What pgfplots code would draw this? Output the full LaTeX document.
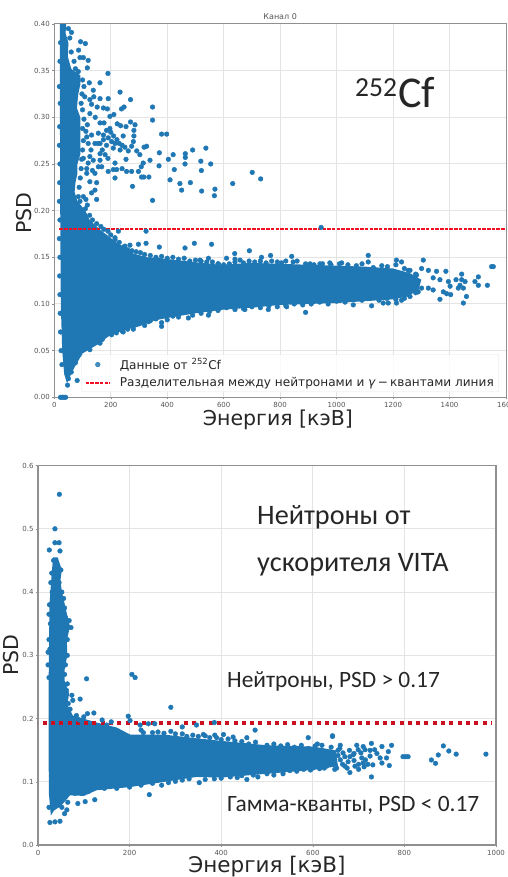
\documentclass[border=0pt]{standalone}
\usepackage{fontspec}
\setmainfont{DejaVu Sans}
\newfontfamily\calfont{Carlito}
\usepackage{pgfplots}
\pgfplotsset{compat=1.18}
\definecolor{mplblue}{HTML}{1F77B4}
\definecolor{gridc}{HTML}{E4E4E4}
\definecolor{tickc}{HTML}{555555}
\definecolor{framec}{HTML}{909090}
\definecolor{txt}{HTML}{262626}
\definecolor{dotred}{HTML}{CC1020}
\definecolor{lred}{HTML}{F01020}
\pgfplotsset{
  common/.style={
    scale only axis, axis on top=false, grid=major,
    grid style={gridc,line width=1pt},
    axis line style={framec,line width=1pt},
    tick style={framec,line width=0.4pt},
    major tick length=2pt,
    tick align=outside, xtick pos=lower, ytick pos=left,
    scaled ticks=false,
    tick label style={font=\fontsize{7}{8}\selectfont,color=tickc},
    xticklabel style={yshift=1pt},
    yticklabel style={xshift=1pt},
    legend image code/.code={\draw[mark repeat=2,mark phase=2,##1] plot coordinates {(0pt,0pt)(12pt,0pt)(24pt,0pt)};},
  },
  dots/.style={only marks,mark=*,mark size=2.35pt,color=mplblue,mark options={draw=none,fill=mplblue}},
  blob/.style={draw=none,fill=mplblue,forget plot},
}
\begin{document}
\begin{tikzpicture}
\path[use as bounding box] (0,0) rectangle (507pt,877pt);
% ------------------------------------ top panel
\begin{axis}[common,at={(54.3pt,479.7pt)},anchor=south west,
  width=451.7pt,height=373.3pt,
  xmin=0,xmax=1600,ymin=0,ymax=0.40,
  xtick={0,200,...,1600},ytick={0,0.05,...,0.401},
  yticklabel style={/pgf/number format/.cd,fixed,fixed zerofill,precision=2,assume math mode=true},
  xticklabel style={/pgf/number format/.cd,fixed,1000 sep={},assume math mode=true},
  title={Канал 0},title style={font=\fontsize{8}{9}\selectfont,color=tickc,at={(0.5,1)},yshift=-5.5pt},
  xlabel={Энергия [кэВ]},ylabel={PSD},
  every axis x label/.style={at={(axis description cs:0.495,-0.061)},anchor=center,font=\fontsize{20.5}{24}\selectfont,color=txt},
  every axis y label/.style={at={(axis description cs:-0.067,0.494)},anchor=center,rotate=90,font=\fontsize{20.5}{24}\selectfont,color=txt},
  legend style={at={(0.9845,0.014)},anchor=south east,font=\fontsize{12.1}{14}\selectfont,
    draw=gridc,fill=white,fill opacity=0.82,text opacity=1,text=txt,cells={anchor=west},
    row sep=2.5pt,inner xsep=3pt,inner ysep=2pt,rounded corners=1pt,
    /tikz/every odd column/.append style={column sep=7pt}},
  legend cell align=left,
]
\addplot[blob] coordinates {(20,.40)(42,.40)(40,.39)(50,.38)(48,.365)(60,.352)(92,.345)(92,.335)(85,.325)(80,.31)(92,.30)(92,.28)(92,.26)(82,.25)(82,.24)(75,.23)(72,.22)(82,.21)(110,.20)(125,.19)(160,.18)(186,.174)(215,.167)(250,.160)(280,.154)(330,.150)(374,.149)(492,.145)(587,.142)(700,.144)(800,.143)(1000,.141)(1100,.140)(1200,.138)(1260,.133)(1300,.126)(1290,.115)(1250,.108)(1200,.105)(1100,.103)(1000,.101)(800,.099)(700,.096)(600,.094)(500,.090)(400,.085)(350,.082)(300,.076)(250,.072)(200,.067)(150,.056)(100,.047)(75,.034)(55,.022)(45,.015)(35,.025)(28,.05)(23,.1)(21,.2)(20,.3)} --cycle;
\addplot[dots] coordinates {
(61,.391)(93,.381)(110,.379)(86,.372)(91,.364)(103,.364)(120,.361)(117,.353)(190,.347)(124,.337)(162,.337)(138,.329)(233,.327)(270,.319)(191,.320)(162,.320)(140,.322)(126,.319)(132,.314)(152,.311)(174,.310)(188,.309)(247,.311)(238,.309)(348,.311)(348,.297)(211,.303)(197,.301)(126,.304)(162,.294)(176,.294)(270,.295)(286,.292)(223,.293)(235,.291)(254,.290)(197,.288)(185,.286)(282,.286)(380,.282)(398,.282)(244,.280)(282,.280)(115,.279)(132,.281)(156,.283)(174,.281)(174,.276)(191,.278)(203,.274)(215,.272)(230,.272)(280,.274)(327,.269)(318,.268)(185,.270)(120,.272)(144,.272)(162,.272)(274,.269)(292,.264)(303,.260)(262,.264)(233,.265)(209,.267)(490,.265)(537,.267)(464,.261)(464,.257)(372,.262)(421,.260)(404,.255)(463,.250)(519,.253)(554,.250)(371,.248)(339,.254)(315,.251)(308,.247)(298,.242)(254,.255)(215,.251)(209,.244)(221,.244)(191,.242)(256,.242)(274,.242)(215,.235)(309,.236)(317,.236)(335,.236)(425,.244)(521,.243)(410,.233)(701,.241)(731,.234)(482,.230)(445,.229)(632,.229)(277,.226)(451,.222)(522,.221)(569,.223)(567,.216)(348,.211)(150,.212)(132,.219)(144,.222)(126,.231)(150,.230)(115,.240)(144,.240)(120,.251)(138,.254)(162,.254)(156,.247)(168,.247)(126,.258)(162,.261)(115,.245)(103,.256)(112,.285)(117,.292)(112,.212)(117,.206)(103,.215)(91,.210)
(100,.340)(105,.333)(98,.325)(108,.322)(95,.315)(100,.308)(105,.298)(100,.288)(103,.275)(100,.265)(97,.255)(95,.245)(92,.235)(88,.225)(85,.215)(60,.37)(55,.385)(50,.395)(70,.36)(75,.352)(85,.349)(200,.284)(210,.280)(222,.276)(240,.270)(250,.268)(170,.265)(180,.260)(190,.256)(135,.243)(130,.265)(240,.245)(145,.300)(155,.272)
(325,.178)(945,.182)(227,.178)(215,.169)(250,.162)(268,.163)(298,.164)(325,.165)(372,.161)(463,.160)(496,.165)(557,.164)(691,.157)(639,.154)(610,.149)(766,.152)(734,.150)(841,.151)(1112,.152)(1112,.145)(1307,.147)(1212,.147)(1230,.145)(1018,.144)(976,.144)(906,.143)(941,.143)(846,.145)(805,.144)(640,.145)(658,.147)(516,.147)(546,.149)(581,.143)
(890,.091)(1124,.098)(1059,.099)(1212,.101)(1165,.101)(1183,.101)(1449,.101)(1460,.108)(1366,.105)(1404,.110)(1230,.104)(1177,.106)(823,.097)(758,.094)(675,.094)(546,.088)(475,.085)(421,.088)(351,.085)(380,.076)(333,.081)(280,.076)(203,.067)(244,.070)(162,.058)(126,.051)(81,.018)(47,.013)(22,0)(28,0)(34,0)(40,0)
(1555,.140)(1549,.140)(1534,.120)(1502,.129)(1490,.124)(1502,.120)(1455,.124)(1443,.132)(1431,.117)(1423,.126)(1443,.126)(1449,.117)(1437,.120)(1387,.135)(1396,.124)(1402,.119)(1378,.113)(1390,.111)(1354,.135)(1366,.126)(1342,.128)(1325,.136)(1301,.138)(1342,.115)(1325,.117)(1283,.131)(1289,.113)(1301,.117)(1266,.126)(1254,.110)(1254,.136)
(110,.202)(125,.195)(135,.190)(150,.186)(165,.183)(175,.180)(190,.178)(200,.174)(215,.171)(230,.166)(245,.161)(260,.158)(275,.157)(290,.156)(305,.155)(320,.153)(340,.152)(360,.150)(380,.151)(400,.149)(420,.150)(440,.148)(460,.149)(480,.146)(500,.147)(520,.146)(540,.145)(560,.145)(580,.143)(600,.142)(620,.143)(640,.148)(670,.144)(690,.146)(710,.145)(730,.146)(750,.144)(770,.146)(790,.145)(820,.146)(860,.146)(890,.143)(920,.142)(950,.143)(980,.142)(1010,.143)(1040,.142)(1070,.141)(1090,.143)(1130,.139)(1160,.141)(1180,.140)(1210,.142)(1240,.138)(1260,.136)(1280,.132)
(1280,.112)(1260,.108)(1240,.106)(1210,.105)(1180,.107)(1150,.104)(1120,.106)(1090,.104)(1060,.105)(1030,.102)(1000,.103)(970,.100)(940,.102)(910,.100)(880,.099)(850,.100)(820,.098)(790,.097)(760,.098)(730,.096)(700,.097)(670,.095)(640,.094)(610,.096)(580,.093)(550,.092)(520,.090)(490,.088)(460,.091)(440,.086)(420,.087)(400,.083)(380,.080)(360,.084)(340,.082)(320,.077)(300,.079)(280,.073)(260,.073)(240,.071)(220,.069)(190,.068)(170,.062)(150,.059)(130,.056)(110,.052)(90,.046)(75,.037)(60,.027)(50,.020)
(19,.29)(18,.27)(20,.25)(19,.23)(18,.21)(20,.19)(18,.17)(20,.15)(19,.13)(20,.11)(21,.09)(22,.07)(24,.05)(27,.035)(18,.333)(22,.333)(20,.36)(22,.38)(21,.315)
};
\addlegendentry{Данные от \textsuperscript{252}Cf}
\addplot[color=lred,solid,line width=2pt,dash pattern=on 3.5pt off 1.2pt] coordinates {(18,.18)(400,.18)(800,.18)(1200,.18)(1600,.18)};
\addlegendentry{Разделительная между нейтронами и \textit{γ}\,−\,квантами линия}
\end{axis}
% ------------------------------------ bottom panel
\begin{axis}[common,at={(38pt,31.7pt)},anchor=south west,
  width=458pt,height=379.8pt,
  axis line style={framec,line width=1.6pt},
  xmin=0,xmax=1000,ymin=0,ymax=0.6,
  xtick={0,200,...,1000},ytick={0,0.1,...,0.61},
  yticklabel style={/pgf/number format/.cd,fixed,fixed zerofill,precision=1,assume math mode=true},
  xticklabel style={/pgf/number format/.cd,fixed,1000 sep={},assume math mode=true},
  xlabel={Энергия [кэВ]},ylabel={PSD},
  every axis x label/.style={at={(axis description cs:0.5,-0.057)},anchor=center,font=\fontsize{21.5}{25}\selectfont,color=txt},
  every axis y label/.style={at={(axis description cs:-0.059,0.5)},anchor=center,rotate=90,font=\fontsize{20.5}{24}\selectfont,color=txt},
]
\addplot[blob] coordinates {(33,.455)(43,.455)(52,.435)(49,.419)(52,.401)(58,.382)(66,.356)(70,.346)(63,.324)(64,.30)(58,.277)(58,.26)(68,.24)(64,.222)(76,.205)(128,.194)(172,.186)(201,.175)(274,.175)(346,.169)(400,.165)(500,.158)(600,.156)(650,.150)(655,.125)(600,.119)(500,.113)(400,.107)(346,.108)(274,.100)(201,.092)(128,.087)(100,.078)(70,.079)(50,.062)(35,.055)(28,.047)(24,.08)(23,.15)(23,.25)(24,.30)(25,.38)(30,.43)} --cycle;
\addplot[dots] coordinates {
(46.6,.5545)(37,.5)(37,.478)(46,.478)(24.7,.4665)(48,.465)(34,.45)(42,.44)(50,.435)(30,.43)(28,.415)(46,.415)(52,.40)(31,.40)(56,.39)(25,.38)(58,.375)(24,.365)(60,.36)(68,.355)(27,.35)(72,.344)(58,.335)(24,.325)(64,.325)(26,.31)(22,.305)(64,.30)(60,.285)(22,.285)(58,.27)(24,.265)
(106,.263)(205,.270)(212,.265)(290,.218)(385,.194)(315,.187)(474,.182)(197,.204)(201,.197)(346,.190)(223,.190)(241,.192)(255,.192)(361,.175)(386,.174)(405,.175)(456,.170)(426,.171)(74,.237)(92,.231)(76,.229)(84,.205)(108,.208)(122,.209)(66,.224)(62,.245)(64,.255)(70,.215)(90,.198)(100,.203)(140,.198)(160,.195)(150,.190)
(243,.080)(456,.104)(728,.108)(103,.069)(124,.072)(87,.066)(63,.056)(26,.036)(48,.038)(37,.037)(352,.099)(270,.095)(172,.090)(24,.06)(58,.05)(52,.06)(65,.068)(80,.082)(110,.085)(145,.090)(200,.092)(225,.095)(300,.101)(330,.105)(385,.105)(420,.108)
(590,.170)(643,.172)(978,.144)(913,.144)(897,.149)(885,.157)(874,.1427)(859,.1348)(868,.1295)(797,.140)(803,.140)(808,.140)
(772,.158)(765,.148)(751,.156)(761,.138)(767,.126)(751,.130)(728,.161)(735,.151)(710,.156)(696,.158)(681,.115)(731,.127)(725,.141)(707,.138)(710,.130)(692,.125)(677,.132)(670,.125)(652,.122)(688,.143)(666,.146)(659,.153)(643,.173)(699,.151)(681,.140)(714,.151)(747,.138)(720,.128)(700,.120)(660,.135)(655,.150)(640,.155)(620,.158)(630,.125)(610,.160)(600,.122)(670,.140)
(665,.128)(680,.150)(690,.134)(705,.146)(715,.135)(725,.150)(740,.145)(655,.142)(675,.122)(690,.145)(700,.128)(712,.124)(660,.158)(625,.122)(648,.120)
(230,.178)(250,.178)(275,.177)(300,.176)(325,.172)(350,.172)(375,.170)(400,.167)(430,.165)(460,.160)(500,.158)(530,.157)(560,.155)(590,.153)(620,.150)
(225,.182)(262,.179)(290,.180)(315,.176)(338,.174)(365,.173)(390,.170)(415,.168)(445,.164)(475,.163)(515,.160)(545,.159)(575,.158)(605,.157)
(500,.113)(470,.111)(550,.118)(580,.120)(445,.110)(480,.108)(515,.111)(535,.113)(565,.117)(595,.119)(615,.121)(250,.098)(285,.099)(315,.103)(365,.104)(400,.106)(435,.107)
};
\addplot[dotred,line width=4pt,dash pattern=on 4pt off 4.3pt] coordinates {(-8,.1925)(990,.1925)};
\end{axis}
% ------------------------------------ annotations
\node[anchor=base west,inner sep=0,text=txt] at (355pt,780pt) {\calfont\fontsize{27.5}{30}\selectfont 252};
\node[anchor=base west,inner sep=0,text=txt] at (398pt,769pt) {\calfont\fontsize{44}{48}\selectfont Cf};
\begin{scope}[every node/.style={anchor=base west,inner sep=0,text=txt,font=\calfont\fontsize{28.2}{32}\selectfont}]
\node at (257pt,352pt) {Нейтроны от};
\node at (257pt,305pt) {ускорителя VITA};
\end{scope}
\begin{scope}[every node/.style={anchor=base west,inner sep=0,text=txt,font=\calfont\fontsize{23.4}{26}\selectfont}]
\node at (227pt,189pt) {Нейтроны, PSD > 0.17};
\node at (227pt,65pt) {Гамма-кванты, PSD < 0.17};
\end{scope}
\end{tikzpicture}
\end{document}
